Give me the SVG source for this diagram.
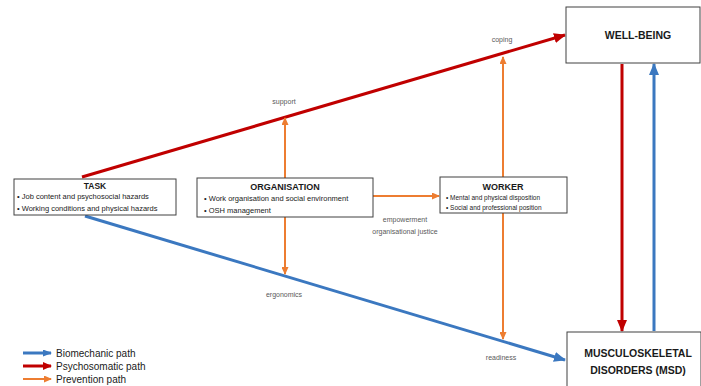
<svg xmlns="http://www.w3.org/2000/svg" width="701" height="386" viewBox="0 0 701 386">
<defs>
<style>
.box{fill:#fff;stroke:#404040;stroke-width:1}
.t{font-family:"Liberation Sans",Arial,sans-serif;fill:#1a1a1a}
.ttl{font-weight:bold;text-anchor:middle}
.lbl{font-family:"Liberation Sans",Arial,sans-serif;fill:#595959;font-size:7px;text-anchor:middle}
.red{stroke:#C00000;stroke-width:3;fill:none}
.blue{stroke:#3B78C0;stroke-width:3;fill:none}
.org{stroke:#ED7D31;stroke-width:2;fill:none}
</style>
<marker id="aR" markerUnits="userSpaceOnUse" markerWidth="12" markerHeight="10" refX="11" refY="5" orient="auto"><path d="M0,0 L12,5 L0,10 Z" fill="#C00000"/></marker>
<marker id="aB" markerUnits="userSpaceOnUse" markerWidth="12" markerHeight="10" refX="11" refY="5" orient="auto"><path d="M0,0 L12,5 L0,10 Z" fill="#3B78C0"/></marker>
<marker id="aO" markerUnits="userSpaceOnUse" markerWidth="8" markerHeight="7" refX="7" refY="3.5" orient="auto"><path d="M0,0 L8,3.5 L0,7 Z" fill="#ED7D31"/></marker>
<marker id="sR" markerUnits="userSpaceOnUse" markerWidth="9" markerHeight="8" refX="8" refY="4" orient="auto"><path d="M0,0 L9,4 L0,8 Z" fill="#C00000"/></marker>
<marker id="sB" markerUnits="userSpaceOnUse" markerWidth="9" markerHeight="7" refX="8" refY="3.5" orient="auto"><path d="M0,0 L9,3.5 L0,7 Z" fill="#3B78C0"/></marker>
</defs>
<g id="connectors">
<line class="red" x1="82" y1="177" x2="565" y2="35" marker-end="url(#aR)"/>
<line class="blue" x1="85" y1="216" x2="565" y2="360" marker-end="url(#aB)"/>
<line class="red" x1="622" y1="64" x2="622" y2="331" marker-end="url(#aR)"/>
<line class="blue" x1="654" y1="331" x2="654" y2="64" stroke-width="2.5" marker-end="url(#aB)"/>
<line class="org" x1="285" y1="178" x2="285" y2="118" marker-end="url(#aO)"/>
<line class="org" x1="285" y1="217" x2="285" y2="274" marker-end="url(#aO)"/>
<line class="org" x1="373" y1="196" x2="439" y2="196" marker-end="url(#aO)"/>
<line class="org" x1="503" y1="177" x2="503" y2="57" marker-end="url(#aO)"/>
<line class="org" x1="503" y1="213" x2="503" y2="339" marker-end="url(#aO)"/>
<text class="lbl" x="502" y="42">coping</text>
<text class="lbl" x="284" y="104">support</text>
<text class="lbl" x="284" y="297">ergonomics</text>
<text class="lbl" x="501" y="360">readiness</text>
<text class="lbl" x="405" y="222">empowerment</text>
<text class="lbl" x="405" y="234">organisational justice</text>
</g>
<g id="task">
<rect class="box" x="14" y="179" width="162" height="36"/>
<text class="t ttl" x="95" y="188.5" font-size="8.5">TASK</text>
<text class="t" x="17" y="199" font-size="7.5">• Job content and psychosocial hazards</text>
<text class="t" x="17" y="211" font-size="7.5">• Working conditions and physical hazards</text>
</g>
<g id="organisation">
<rect class="box" x="197" y="178" width="176" height="39"/>
<text class="t ttl" x="285" y="190" font-size="9">ORGANISATION</text>
<text class="t" x="204" y="201" font-size="7.5">• Work organisation and social environment</text>
<text class="t" x="204" y="212.5" font-size="7.5">• OSH management</text>
</g>
<g id="worker">
<rect class="box" x="440" y="177" width="127" height="36"/>
<text class="t ttl" x="503" y="189.5" font-size="9">WORKER</text>
<text class="t" x="446" y="199.5" font-size="6.5">• Mental and physical disposition</text>
<text class="t" x="446" y="209.5" font-size="6.5">• Social and professional position</text>
</g>
<g id="wellbeing">
<rect class="box" x="566" y="7" width="134" height="56"/>
<text class="t ttl" x="638" y="39" font-size="10.5">WELL-BEING</text>
</g>
<g id="msd">
<rect class="box" x="567" y="332" width="134" height="60"/>
<text class="t ttl" x="638" y="357" font-size="10.5">MUSCULOSKELETAL</text>
<text class="t ttl" x="638" y="374" font-size="10.5">DISORDERS (MSD)</text>
</g>
<g id="legend">
<line class="blue" x1="23" y1="353" x2="51" y2="353" stroke-width="1.8" marker-end="url(#sB)"/>
<line class="red" x1="23" y1="366" x2="51" y2="366" marker-end="url(#sR)"/>
<line class="org" x1="23" y1="379" x2="51" y2="379" marker-end="url(#aO)"/>
<text class="t" x="56" y="356.5" font-size="10">Biomechanic path</text>
<text class="t" x="56" y="369.5" font-size="10">Psychosomatic path</text>
<text class="t" x="56" y="382.5" font-size="10">Prevention path</text>
</g>
</svg>
